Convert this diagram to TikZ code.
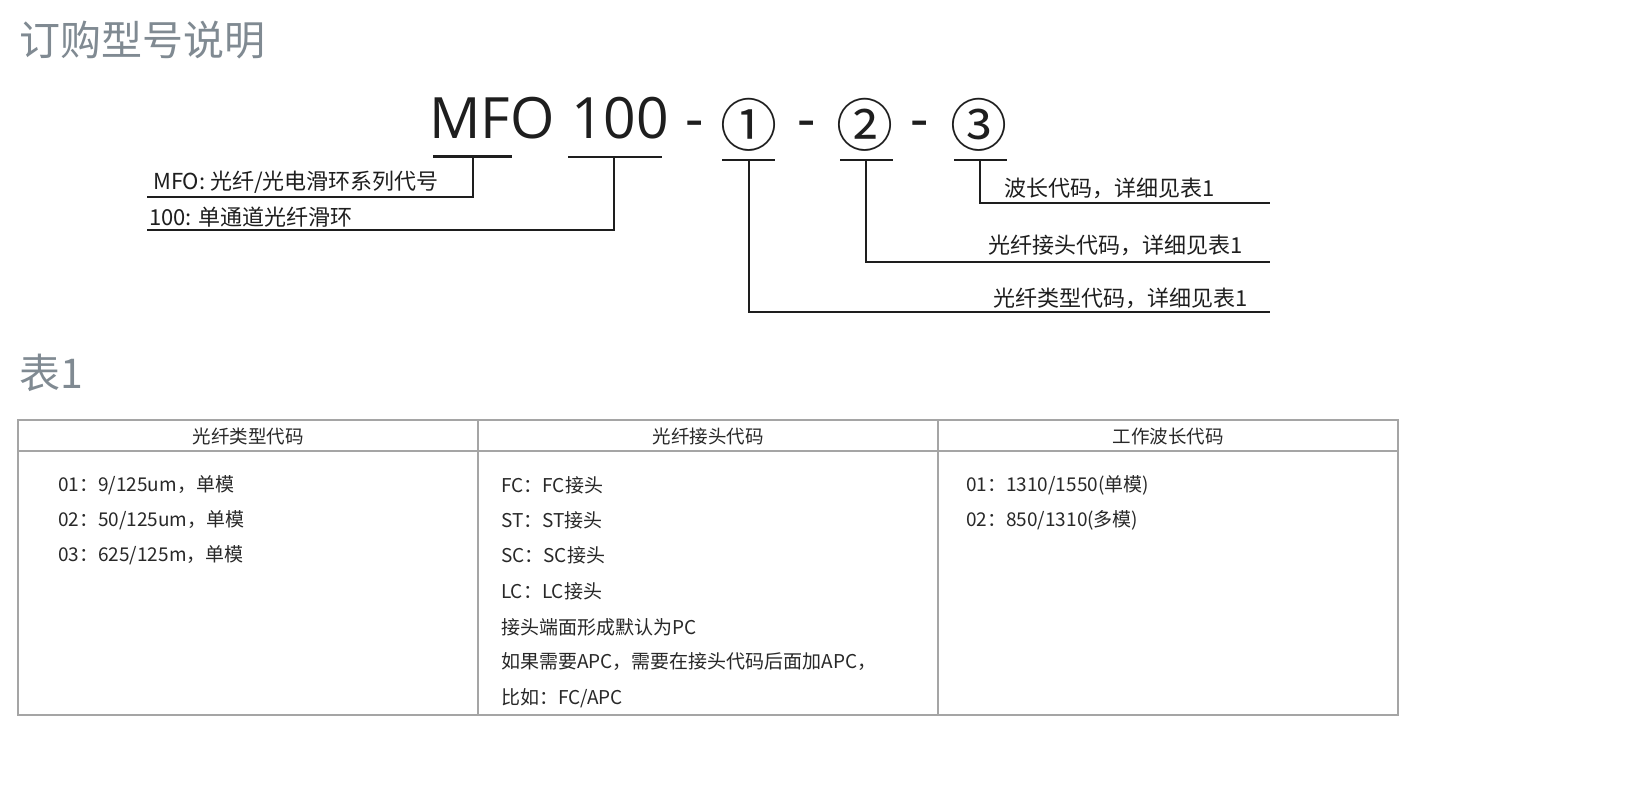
\documentclass[tikz,border=0pt]{standalone}
\usepackage{fontspec}
\setmainfont{Noto Sans CJK SC}
\newfontfamily\latinf{Open Sans}
\newfontfamily\cjkf{Noto Sans CJK SC}
\definecolor{titlegray}{RGB}{128,138,146}
\definecolor{inkc}{RGB}{30,30,30}
\definecolor{tabline}{RGB}{165,165,165}
\definecolor{tabtext}{RGB}{40,40,40}
\begin{document}
\begin{tikzpicture}[x=1pt,y=-1pt,
  title/.style={inner sep=0pt, anchor=west, text=titlegray, font=\cjkf\fontsize{41}{44}\selectfont},
  codetxt/.style={inner sep=0pt, anchor=base west, text=inkc, font=\latinf\fontsize{57}{60}\selectfont},
  dashtxt/.style={inner sep=0pt, anchor=base, text=inkc, font=\latinf\fontsize{57}{60}\selectfont},
  circtxt/.style={inner sep=0pt, anchor=center, text=inkc, font=\cjkf\fontsize{57}{60}\selectfont},
  lab/.style={inner sep=0pt, anchor=west, text=inkc, font=\cjkf\fontsize{22}{25}\selectfont},
  leader/.style={draw=inkc, line width=1.3pt},
  thickleader/.style={draw=inkc, line width=3pt},
  tab/.style={draw=tabline, line width=1.5pt},
  head/.style={inner sep=0pt, anchor=center, text=tabtext, font=\cjkf\fontsize{18.5}{20}\selectfont},
  cell/.style={inner sep=0pt, anchor=west, text=tabtext, font=\cjkf\fontsize{19}{21}\selectfont}]
\useasboundingbox[fill=white] (0,0) rectangle (1628,800);

% titles
\node[title] (t1) at (19,40) {订购型号说明};
\node[title] (t2) at (19,373) {表1};

% model code
\node[codetxt] (mfo) at (429,138) {MFO};
\node[codetxt] (n100) at (571,138) {100};
\node[dashtxt] (h1) at (695,138) {-};
\node[circtxt] (c1) at (749,125) {①};
\node[dashtxt] (h2) at (807,138) {-};
\node[circtxt] (c2) at (865,125) {②};
\node[dashtxt] (h3) at (920,138) {-};
\node[circtxt] (c3) at (979,125) {③};

% underlines
\coordinate (u0l) at (433,156); \coordinate (u0r) at (512,156); \coordinate (u0m) at (473,156);
\coordinate (u1l) at (568,157); \coordinate (u1r) at (662,157); \coordinate (u1m) at (614,157);
\coordinate (u2l) at (722,160); \coordinate (u2r) at (775,160); \coordinate (u2m) at (749,160);
\coordinate (u3l) at (840,160); \coordinate (u3r) at (893,160); \coordinate (u3m) at (866,160);
\coordinate (u4l) at (954,160); \coordinate (u4r) at (1007,160); \coordinate (u4m) at (980,160);
\draw[thickleader] (u0l) -- (u0r);
\draw[leader] (u1l) -- (u1r);
\draw[leader] (u2l) -- (u2r);
\draw[leader] (u3l) -- (u3r);
\draw[leader] (u4l) -- (u4r);

% leader lines
\coordinate (k0) at (473,197); \coordinate (e0) at (147,197);
\coordinate (k1) at (614,230); \coordinate (e1) at (147,230);
\coordinate (k4) at (980,203); \coordinate (e4) at (1270,203);
\coordinate (k3) at (866,262); \coordinate (e3) at (1270,262);
\coordinate (k2) at (749,312); \coordinate (e2) at (1270,312);
\draw[leader] (u0m) -- (k0) -- (e0);
\draw[leader] (u1m) -- (k1) -- (e1);
\draw[leader] (u4m) -- (k4) -- (e4);
\draw[leader] (u3m) -- (k3) -- (e3);
\draw[leader] (u2m) -- (k2) -- (e2);

% labels
\node[lab] (l0) at (153,182) {MFO: 光纤/光电滑环系列代号};
\node[lab] (l1) at (149,217) {100: 单通道光纤滑环};
\node[lab] (l4) at (1004,188) {波长代码，详细见表1};
\node[lab] (l3) at (988,245) {光纤接头代码，详细见表1};
\node[lab] (l2) at (993,298) {光纤类型代码，详细见表1};

% table
\coordinate (tnw) at (18,420); \coordinate (tse) at (1398,715);
\draw[tab] (tnw) rectangle (tse);
\draw[tab] (18,451) -- (1398,451);
\draw[tab] (478,420) -- (478,715);
\draw[tab] (938,420) -- (938,715);

\node[head] (hd1) at (248,436) {光纤类型代码};
\node[head] (hd2) at (708,436) {光纤接头代码};
\node[head] (hd3) at (1168,436) {工作波长代码};

\node[cell] (a1) at (58,485) {01：9/125um，单模};
\node[cell] (a2) at (58,520) {02：50/125um，单模};
\node[cell] (a3) at (58,555) {03：625/125m，单模};

\node[cell] (b1) at (501,485) {FC：FC接头};
\node[cell] (b2) at (501,520) {ST：ST接头};
\node[cell] (b3) at (501,555) {SC：SC接头};
\node[cell] (b4) at (501,591) {LC：LC接头};
\node[cell] (b5) at (501,627) {接头端面形成默认为PC};
\node[cell] (b6) at (501,662) {如果需要APC，需要在接头代码后面加APC，};
\node[cell] (b7) at (501,698) {比如：FC/APC};

\node[cell] (c3a) at (966,485) {01：1310/1550(单模)};
\node[cell] (c3b) at (966,520) {02：850/1310(多模)};
\end{tikzpicture}
\end{document}
